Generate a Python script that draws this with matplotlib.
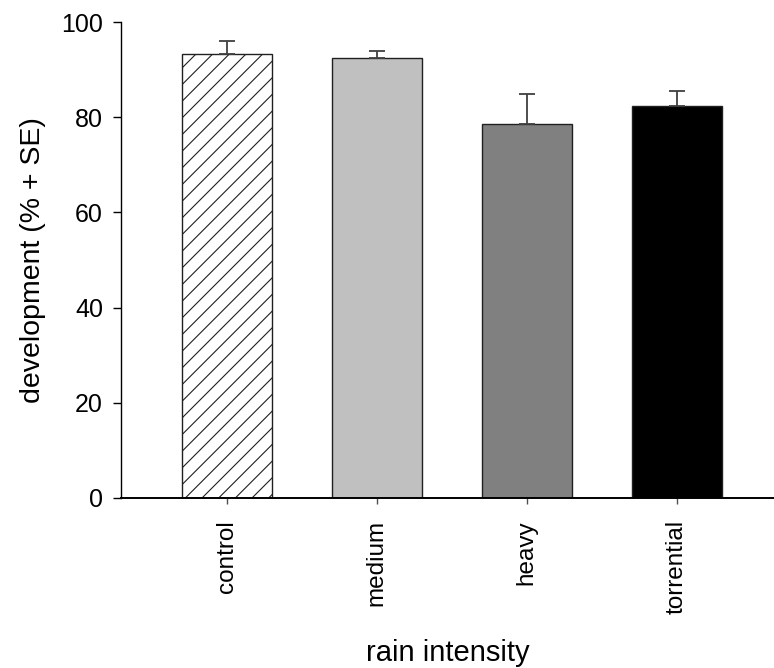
import matplotlib
matplotlib.use("Agg")
import matplotlib.pyplot as plt
import numpy as np

plt.rcParams["font.family"] = ["Liberation Sans", "DejaVu Sans"]
plt.rcParams["hatch.linewidth"] = 0.8

categories = ["control", "medium", "heavy", "torrential"]
development = [93.3, 92.5, 78.6, 82.4]
se = [2.7, 1.5, 6.3, 3.1]
fills = ["white", "#c0c0c0", "#808080", "black"]
hatches = ["//", "", "", ""]

fig = plt.figure(figsize=(7.74, 6.68), dpi=100)
ax = fig.add_axes([0.1563, 0.255, 0.8437, 0.7116])

x = np.arange(len(categories))
for xi, v, e, c, h in zip(x, development, se, fills, hatches):
    ax.bar(xi, v, width=0.6, color=c, edgecolor="#202020", linewidth=1.0, hatch=h, zorder=2)
    ax.errorbar(xi, v, yerr=[[0], [e]], fmt="none", ecolor="#404040",
                elinewidth=1.3, capsize=5.5, capthick=1.3, zorder=3)

ax.set_xlim(-0.705, 3.65)
ax.set_ylim(0, 100)
ax.set_yticks([0, 20, 40, 60, 80, 100])
ax.set_xticks(x)
ax.set_xticklabels(categories, rotation=90, fontsize=17.5)
ax.tick_params(axis="y", direction="out", length=6, width=1, labelsize=18, pad=7)
ax.tick_params(axis="x", direction="out", length=4, width=1, color="#505050", pad=12)

for side in ["top", "right"]:
    ax.spines[side].set_visible(False)
ax.spines["left"].set_linewidth(1.0)
ax.spines["bottom"].set_linewidth(1.4)

ax.set_ylabel("development (% + SE)", fontsize=20.5, labelpad=11)
ax.set_xlabel("rain intensity", fontsize=21, labelpad=18)

fig.savefig("out.png", dpi=100)
